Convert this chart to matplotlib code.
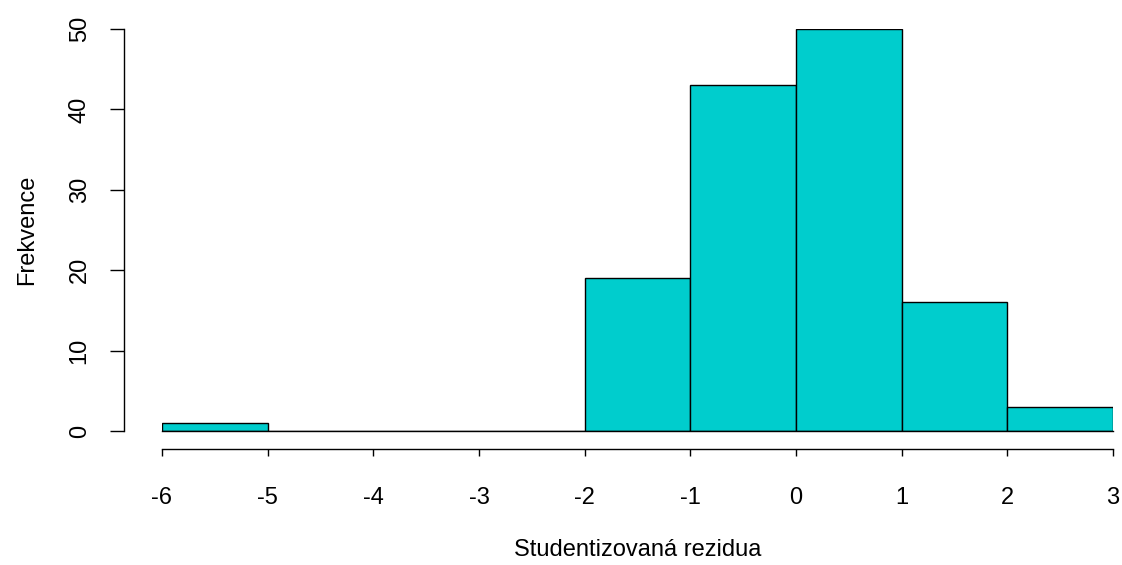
import numpy as np
import matplotlib.pyplot as plt

plt.rcParams['font.family'] = ['Liberation Sans', 'DejaVu Sans']

# histogram of studentized residuals, bins of width 1
bin_edges = [-6, -5, -4, -3, -2, -1, 0, 1, 2, 3]
counts = [1, 0, 0, 0, 19, 43, 50, 16, 3]
x_ticks = [-6, -5, -4, -3, -2, -1, 0, 1, 2, 3]
y_ticks = [0, 10, 20, 30, 40, 50]

W, H = 1122, 565
fig = plt.figure(figsize=(W / 100, H / 100), dpi=100)
ax = fig.add_axes([162 / W, (H - 431) / H, (1113 - 162) / W, (431 - 29) / H])

lefts = np.array(bin_edges[:-1])
widths = np.diff(bin_edges)
ax.bar(lefts, counts, width=widths, align='edge', color='#00CDCD',
       edgecolor='black', linewidth=1.0)
# zero-count bins still show their baseline
ax.plot([bin_edges[0], bin_edges[-1]], [0, 0], color='black', lw=1.0,
        zorder=5, clip_on=False)

ax.set_xlim(bin_edges[0], bin_edges[-1])
ax.set_ylim(0, 50)
ax.set_xticks(x_ticks)
ax.set_yticks(y_ticks)
ax.set_xticklabels([str(t) for t in x_ticks])
ax.set_yticklabels([str(t) for t in y_ticks])

for s in ['top', 'right']:
    ax.spines[s].set_visible(False)
ax.spines['bottom'].set_position(('outward', 18 * 0.72))
ax.spines['left'].set_position(('outward', 38 * 0.72))
ax.spines['bottom'].set_bounds(-6, 3)
ax.spines['left'].set_bounds(0, 50)
for s in ['bottom', 'left']:
    ax.spines[s].set_linewidth(1.0)

ax.tick_params(axis='x', length=5, width=1.0, labelsize=17, pad=22)
ax.tick_params(axis='y', length=10, width=1.0, labelsize=17, pad=14,
               labelrotation=90)
for lbl in ax.get_yticklabels():
    lbl.set_va('center')

ax.set_xlabel('Studentizovaná rezidua', fontsize=17, labelpad=22)
ax.set_ylabel('Frekvence', fontsize=17, labelpad=22)

fig.savefig('out.png', dpi=100)
